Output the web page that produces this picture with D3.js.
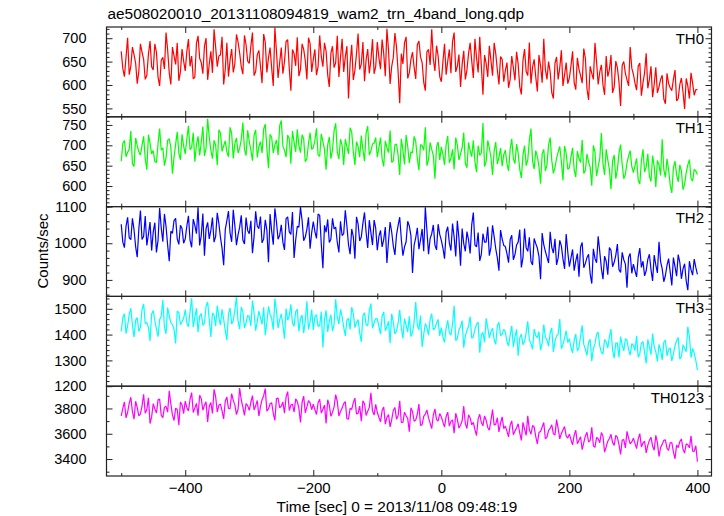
<!DOCTYPE html>
<html><head><meta charset="utf-8">
<script src="https://cdn.jsdelivr.net/npm/d3@7"></script>
<style>
body{margin:0;background:#fff}
svg{display:block}
text{font-family:"Liberation Sans",Arial,Helvetica,sans-serif;fill:#000}
</style>
</head><body><svg id="c" width="724" height="516"></svg>
<script>
const title = "ae508020010_20131108094819_wam2_trn_4band_long.qdp";
const xLabel = "Time [sec] 0 = 2013/11/08 09:48:19";
const yLabel = "Counts/sec";
const seriesNames = ["TH0", "TH1", "TH2", "TH3", "TH0123"];
const seriesColors = ["#ff0000", "#00ff00", "#0000ff", "#00ffff", "#ff00ff"];
const binStart = -500, binWidth = 2.5;

const th0 = [
672,635,618,660,701,622,640,681,665,647,603,629,688,670,655,612,621,666,694,639,632,688,670,617,598,653,659,634,712,675,626,601,681,662,644,690,609,628,677,651,
630,672,698,640,662,613,617,689,705,657,648,624,683,700,611,645,672,626,719,681,639,662,664,703,601,633,690,618,653,677,627,645,708,692,668,639,623,706,686,651,
646,683,712,620,629,665,674,640,604,709,691,627,658,680,636,598,723,671,615,648,680,624,650,693,697,635,588,676,667,641,702,619,633,688,676,652,612,701,689,628,
655,676,621,640,706,661,639,690,672,622,596,668,683,637,648,705,617,659,699,628,660,683,571,646,686,611,631,667,710,633,645,692,608,654,677,625,653,698,624,640,
692,658,634,697,667,619,720,675,602,640,659,711,681,628,561,667,645,690,703,614,626,655,670,638,613,686,694,660,648,606,588,671,676,643,719,655,630,684,662,618,
607,650,688,622,651,676,625,693,712,628,640,665,596,644,673,612,632,667,690,651,615,699,658,627,703,640,579,664,646,617,684,652,620,690,667,632,601,661,655,607,
631,648,594,612,662,637,610,671,645,596,580,652,677,629,620,691,603,638,655,617,586,664,641,605,699,633,612,650,628,584,571,646,660,612,637,674,598,622,648,603,
615,641,672,605,590,658,634,620,604,678,657,592,568,640,625,612,690,649,601,628,643,600,579,662,618,633,664,583,596,651,637,606,555,642,650,625,611,598,681,636,
623,604,589,640,647,577,605,626,668,593,612,640,574,601,638,583,596,612,621,570,560,625,603,594,588,612,632,566,571,601,615,585,549,614,598,571,626,604,578,590,
590];
const th1 = [
661,705,712,672,683,690,735,655,648,718,699,684,676,700,722,668,640,726,705,679,687,660,658,704,741,688,694,650,669,712,716,695,630,671,703,733,681,664,727,698,
679,716,748,689,695,731,660,702,722,675,707,746,674,693,765,720,688,667,712,700,651,738,730,685,699,711,684,672,744,729,668,704,718,681,693,714,756,690,675,737,
710,688,662,724,738,670,697,709,681,740,752,693,644,727,719,681,701,713,676,748,761,698,688,671,725,716,655,735,708,684,739,699,682,726,716,660,667,705,731,690,
694,712,742,676,673,728,709,690,640,701,721,667,688,736,754,683,666,715,700,652,715,697,679,743,733,684,652,709,697,671,724,689,661,730,747,676,686,703,705,719,
671,694,719,667,648,711,694,682,736,658,662,701,703,676,627,716,688,653,725,697,657,684,681,722,710,667,639,702,699,688,744,650,665,707,690,675,618,696,708,664,
696,678,652,701,723,657,668,690,641,719,701,664,679,694,731,656,645,707,686,672,712,660,634,699,675,681,755,648,660,712,694,670,627,686,708,654,671,693,649,677,
688,655,637,690,716,667,655,703,681,641,620,676,699,650,664,712,741,661,642,687,673,648,606,679,690,637,652,701,719,663,631,646,668,684,697,660,614,698,680,641,
645,671,694,640,622,686,667,658,713,631,638,679,659,646,601,700,683,624,648,668,730,655,627,690,664,641,592,662,676,618,641,681,702,653,618,629,657,674,687,648,
633,650,668,615,605,662,690,634,647,679,624,611,675,648,598,663,652,626,715,640,621,667,640,603,583,645,661,628,610,652,637,591,604,633,652,665,619,612,641,637,
628];
const th2 = [
1052,1003,988,1046,1071,1015,1010,1068,1037,991,962,1039,1089,1010,1019,1074,994,1025,1058,980,1031,1056,975,1008,1096,1042,1004,1080,1046,995,951,1033,1027,1062,1068,1012,997,1049,1040,1000,
1012,1047,1075,1008,989,1066,1049,1026,1098,994,1021,1081,966,1040,1057,1012,1035,1070,1003,1019,1083,1054,1016,986,940,1037,1062,1088,1028,1004,1091,1048,995,1023,1044,1076,1009,998,1070,1035,
1026,1061,973,1018,1087,1047,1040,1073,1001,1012,1064,1036,948,1080,1033,996,1095,1058,1011,1022,1050,1003,982,1067,1072,1031,1024,1085,960,1009,1046,1044,1099,1062,1007,1017,1038,1071,985,1029,
1059,1032,1013,1080,1076,998,932,1049,1030,1065,1002,1011,1068,1039,1044,1002,975,1060,1021,1026,1090,1047,996,970,1039,1018,958,1072,1052,1006,1017,1055,1084,1030,987,1063,1029,995,1063,1041,
981,1019,1035,990,1010,1044,946,1006,1058,1030,992,968,1023,1049,1071,1011,966,990,1004,1060,1047,1021,919,995,1015,1042,984,1009,1039,978,1098,1035,970,1013,1026,1050,995,982,1052,1024,
1008,987,958,1030,1045,1001,980,1054,1017,964,1061,1014,939,1040,999,978,1032,1009,972,1051,1084,995,990,1029,952,970,1026,1003,1003,1045,966,989,1049,1018,985,960,925,1036,1012,994,
991,972,947,1010,1022,955,969,995,1003,1037,934,960,1040,988,978,1016,950,941,1013,999,987,964,902,1028,996,978,962,946,1031,989,973,1012,941,960,1008,993,957,930,1025,976,
936,960,983,925,951,972,909,990,1002,933,945,961,970,916,890,985,958,947,1019,977,931,902,965,951,914,988,981,936,948,967,998,928,920,975,955,943,879,962,972,918,
943,925,908,962,987,934,951,911,925,956,970,928,897,968,941,919,1004,950,930,895,912,940,958,922,885,961,936,910,969,948,903,930,944,897,872,951,928,913,957,934,
915];
const th3 = [
1412,1466,1481,1404,1435,1478,1502,1437,1390,1456,1466,1412,1428,1497,1519,1443,1447,1428,1375,1480,1493,1454,1421,1392,1458,1471,1534,1430,1403,1505,1472,1446,1439,1420,1366,1490,1486,1438,1451,1463,
1497,1445,1430,1488,1541,1429,1468,1502,1409,1471,1482,1436,1445,1510,1526,1458,1391,1484,1475,1433,1512,1467,1437,1498,1460,1416,1378,1479,1503,1441,1454,1495,1545,1452,1421,1507,1488,1426,1446,1474,
1470,1433,1532,1484,1415,1451,1491,1466,1440,1506,1398,1447,1509,1478,1463,1419,1539,1492,1426,1457,1480,1438,1384,1501,1456,1473,1517,1444,1432,1489,1498,1412,1461,1476,1405,1455,1529,1420,1449,1497,
1418,1470,1477,1431,1436,1489,1350,1458,1494,1410,1452,1477,1413,1440,1537,1466,1441,1498,1470,1429,1395,1456,1463,1420,1506,1481,1427,1446,1458,1407,1372,1472,1485,1438,1434,1493,1520,1425,1446,1462,
1461,1432,1402,1470,1488,1415,1430,1452,1367,1481,1447,1403,1414,1444,1496,1426,1385,1462,1437,1410,1471,1392,1408,1449,1526,1436,1419,1474,1352,1401,1443,1428,1398,1459,1481,1418,1425,1444,1459,1395,
1427,1390,1370,1426,1455,1408,1398,1441,1512,1377,1384,1419,1431,1454,1349,1395,1416,1432,1470,1386,1392,1421,1440,1448,1330,1399,1409,1370,1463,1427,1387,1412,1425,1380,1362,1434,1448,1396,1401,1420,
1410,1372,1356,1399,1434,1352,1391,1420,1318,1387,1402,1361,1372,1409,1451,1380,1365,1343,1421,1396,1388,1411,1340,1368,1439,1390,1379,1355,1407,1426,1333,1374,1395,1401,1460,1345,1362,1386,1415,1369,
1384,1350,1329,1378,1402,1336,1351,1393,1436,1362,1343,1319,1370,1382,1297,1346,1364,1401,1410,1355,1331,1325,1381,1372,1348,1390,1421,1340,1309,1368,1366,1311,1392,1359,1337,1384,1378,1342,1320,1365,
1359,1338,1395,1312,1326,1367,1373,1330,1288,1381,1351,1322,1404,1353,1334,1296,1362,1340,1302,1370,1379,1318,1341,1349,1298,1325,1356,1377,1389,1305,1315,1360,1347,1334,1430,1392,1311,1346,1328,1300,
1262];
const th0123 = [
3742,3801,3851,3726,3770,3840,3889,3774,3715,3857,3806,3741,3758,3819,3912,3762,3792,3885,3681,3733,3838,3797,3763,3868,3874,3745,3728,3810,3817,3771,3940,3836,3749,3705,3803,3792,3667,3851,3829,3760,
3858,3806,3781,3873,3925,3768,3803,3840,3742,3904,3879,3786,3826,3852,3694,3817,3847,3760,3951,3893,3772,3825,3835,3780,3717,3859,3890,3801,3798,3918,3864,3828,3751,3794,3962,3867,3810,3745,3839,3822,
3785,3849,3901,3788,3822,3863,3740,3815,3869,3901,3957,3779,3796,3837,3844,3762,3706,3879,3881,3806,3818,3852,3763,3891,3933,3784,3827,3834,3770,3876,3856,3801,3689,3847,3898,3765,3812,3862,3845,3790,
3834,3791,3752,3845,3873,3763,3794,3826,3681,3869,3826,3738,3769,3812,3909,3855,3740,3776,3803,3838,3855,3720,3716,3801,3792,3846,3882,3757,3761,3819,3699,3860,3837,3744,3778,3808,3924,3781,3748,3832,
3768,3730,3694,3783,3812,3676,3729,3752,3655,3711,3786,3808,3714,3742,3861,3689,3690,3771,3743,3720,3617,3806,3775,3699,3708,3754,3834,3665,3672,3737,3756,3788,3725,3684,3640,3748,3797,3712,3701,3760,
3734,3692,3652,3737,3771,3660,3698,3710,3605,3762,3716,3645,3669,3703,3818,3680,3642,3750,3725,3671,3690,3632,3586,3718,3754,3689,3663,3741,3707,3650,3628,3706,3791,3669,3676,3727,3615,3683,3733,3641,
3660,3621,3575,3668,3702,3592,3621,3645,3679,3606,3548,3690,3637,3587,3741,3631,3596,3665,3654,3578,3520,3611,3618,3654,3689,3560,3573,3627,3642,3671,3601,3589,3712,3640,3559,3602,3630,3657,3584,3566,
3597,3553,3512,3589,3628,3521,3549,3576,3474,3530,3583,3612,3535,3548,3651,3504,3493,3571,3560,3529,3610,3580,3455,3496,3541,3562,3596,3532,3508,3587,3572,3514,3436,3550,3553,3488,3619,3566,3520,3535,
3565,3524,3482,3560,3601,3496,3527,3541,3449,3508,3548,3573,3503,3470,3587,3530,3420,3492,3516,3548,3552,3485,3468,3529,3531,3456,3402,3511,3490,3538,3559,3478,3447,3521,3512,3489,3583,3462,3461,3505,
3380];

const yDomains = [[532, 724], [549.5, 770], [855, 1100], [1200, 1548], [3266, 3976]];
const yTickLabels = [[550, 600, 650, 700], [600, 650, 700, 750], [900, 1000, 1100], [1200, 1300, 1400, 1500], [3400, 3600, 3800]];
const yMinorStep = [10, 10, 20, 20, 100];
const xDomain = [-523, 422];
const xMajorTicks = [-400, -200, 0, 200, 400];
const xMinorTicks = [-500, -300, -100, 100, 300];

const series = [th0, th1, th2, th3, th0123];
const times = th0.map((_, i) => binStart + i * binWidth);

const svg = d3.select("#c");
const plotLeft = 106.5, plotRight = 711.5, plotTop = 27, plotBottom = 476;
const ph = (plotBottom - plotTop) / series.length;
const x = d3.scaleLinear().domain(xDomain).range([plotLeft, plotRight]);
const frameColor = "#222";

function multiples(dom, step) {
  const out = [];
  const lo = Math.ceil((dom[0] - 1e-6) / step), hi = Math.floor((dom[1] + 1e-6) / step);
  for (let i = lo; i <= hi; i++) out.push(i * step);
  return out;
}
function styleAxis(g, size) {
  g.select(".domain").remove();
  g.selectAll(".tick line").attr("stroke", frameColor).attr("stroke-width", 1);
  g.selectAll("text").attr("font-size", size).attr("font-family", '"Liberation Sans",Arial,sans-serif').attr("fill", "#000");
}

svg.append("text").attr("x", 107.5).attr("y", 19).attr("font-size", 15.4).text(title);

series.forEach((vals, k) => {
  const y0 = plotTop + k * ph, y1 = y0 + ph;
  const y = d3.scaleLinear().domain(yDomains[k]).range([y1, y0]);
  svg.append("clipPath").attr("id", "clip" + k).append("rect")
    .attr("x", plotLeft).attr("y", y0).attr("width", plotRight - plotLeft).attr("height", ph);
  const line = d3.line().x((d, i) => x(times[i])).y(d => y(d));
  svg.append("path").datum(vals).attr("d", line).attr("fill", "none")
    .attr("stroke", seriesColors[k]).attr("stroke-width", 1.2)
    .attr("stroke-linejoin", "bevel")
    .attr("clip-path", `url(#clip${k})`);

  const majors = yTickLabels[k];
  const minors = multiples(yDomains[k], yMinorStep[k]).filter(v => !majors.includes(v));

  svg.append("g").attr("transform", `translate(${plotLeft},0)`)
    .call(d3.axisLeft(y).tickValues(majors).tickSize(-6).tickSizeOuter(0).tickPadding(20).tickFormat(d3.format("d")))
    .call(g => styleAxis(g, 14.5));
  svg.append("g").attr("transform", `translate(${plotLeft},0)`)
    .call(d3.axisLeft(y).tickValues(minors).tickSize(-3).tickSizeOuter(0).tickFormat(""))
    .call(g => styleAxis(g, 14.5));
  svg.append("g").attr("transform", `translate(${plotRight},0)`)
    .call(d3.axisRight(y).tickValues(majors).tickSize(-6).tickSizeOuter(0).tickFormat(""))
    .call(g => styleAxis(g, 14.5));
  svg.append("g").attr("transform", `translate(${plotRight},0)`)
    .call(d3.axisRight(y).tickValues(minors).tickSize(-3).tickSizeOuter(0).tickFormat(""))
    .call(g => styleAxis(g, 14.5));
  svg.append("g").attr("transform", `translate(0,${y0})`)
    .call(d3.axisTop(x).tickValues(xMajorTicks).tickSize(-6).tickSizeOuter(0).tickFormat(""))
    .call(g => styleAxis(g, 15));
  svg.append("g").attr("transform", `translate(0,${y0})`)
    .call(d3.axisTop(x).tickValues(xMinorTicks).tickSize(-3).tickSizeOuter(0).tickFormat(""))
    .call(g => styleAxis(g, 15));
  const last = k === series.length - 1;
  svg.append("g").attr("transform", `translate(0,${y1})`)
    .call(d3.axisBottom(x).tickValues(xMajorTicks).tickSize(-6).tickSizeOuter(0).tickPadding(6.5)
      .tickFormat(last ? d3.format("d") : ""))
    .call(g => styleAxis(g, 15));
  svg.append("g").attr("transform", `translate(0,${y1})`)
    .call(d3.axisBottom(x).tickValues(xMinorTicks).tickSize(-3).tickSizeOuter(0).tickFormat(""))
    .call(g => styleAxis(g, 15));

  svg.append("rect").attr("x", plotLeft).attr("y", y0).attr("width", plotRight - plotLeft).attr("height", ph)
    .attr("fill", "none").attr("stroke", frameColor).attr("stroke-width", 1.2);

  svg.append("text").attr("x", 704).attr("y", y0 + 16.5).attr("text-anchor", "end")
    .attr("font-size", 15).text(seriesNames[k]);
});

svg.append("text").attr("x", 397).attr("y", 512).attr("text-anchor", "middle")
  .attr("font-size", 15.4).text(xLabel);
svg.append("text").attr("transform", "translate(47.5,251) rotate(-90)").attr("text-anchor", "middle")
  .attr("font-size", 15).text(yLabel);
</script>
</body></html>
